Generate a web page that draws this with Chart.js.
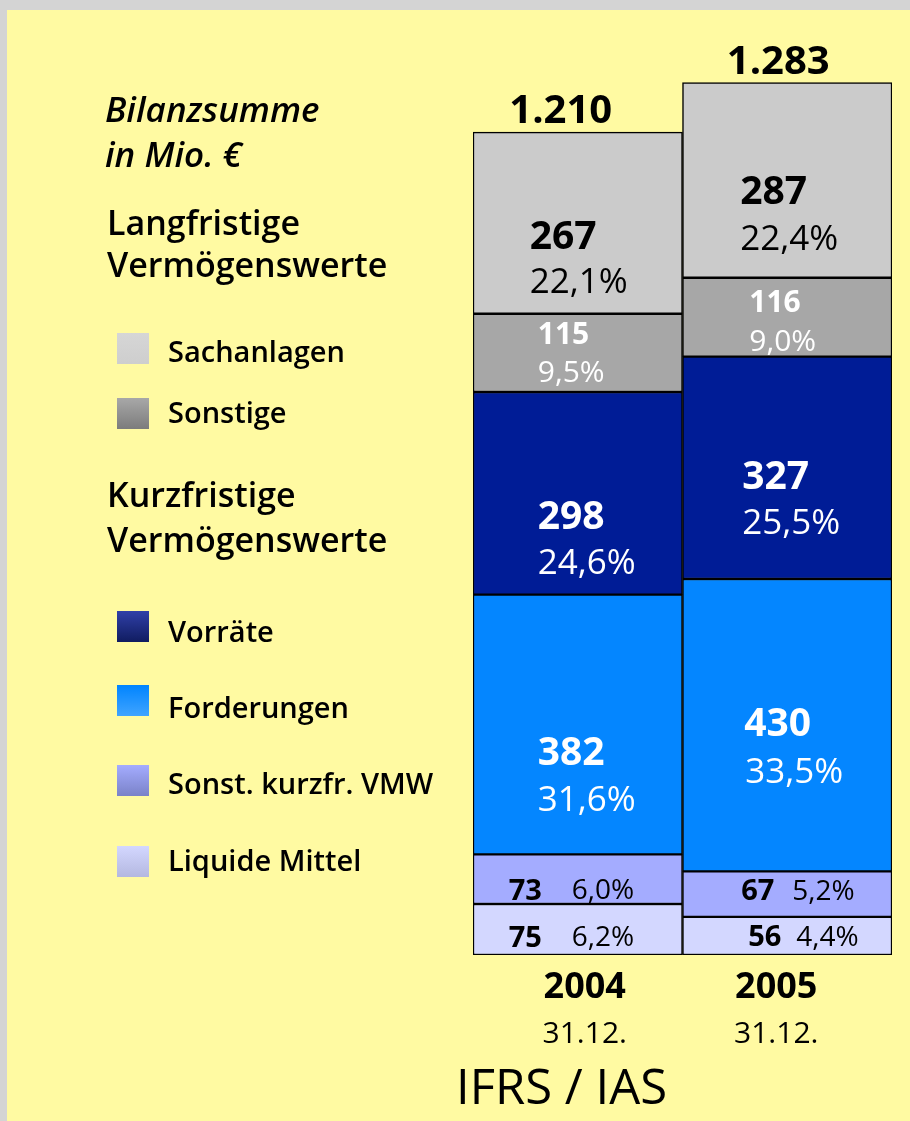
<!DOCTYPE html>
<html>
<head>
<meta charset="utf-8">
<script src="https://cdn.jsdelivr.net/npm/chart.js@4"></script>
<style>
  html, body { margin: 0; padding: 0; }
  body { width: 910px; height: 1121px; background: #d4d4d4; position: relative; overflow: hidden; font-family: "Open Sans", "Noto Sans", sans-serif; }
  #panel { position: absolute; left: 7px; top: 10px; right: 0; bottom: 0; background: #fffaa2; }
  #c { position: absolute; left: 0; top: 0; }
  .t { position: absolute; white-space: nowrap; line-height: 1; color: #000; }
  .h { font-size: 34px; font-weight: 600; }
  .hi { font-size: 35px; font-weight: 600; font-style: italic; }
  .lg { font-size: 29px; font-weight: 600; }
  .sq { position: absolute; width: 32px; height: 31px; }
</style>
</head>
<body>
<div id="panel"></div>
<canvas id="c" width="910" height="1121"></canvas>
<div id="side"></div>
<script>
// ---------- data ----------
const categories = ["2004", "2005"];
const dateLabels = ["31.12.", "31.12."];
const seriesNames = ["Liquide Mittel", "Sonst. kurzfr. VMW", "Forderungen", "Vorräte", "Sonstige", "Sachanlagen"];
const liquideMittel = [75, 56];
const sonstKurzfr = [73, 67];
const forderungen = [382, 430];
const vorraete = [298, 327];
const sonstige = [115, 116];
const sachanlagen = [267, 287];
const liquidePct = ["6,2%", "4,4%"];
const sonstKurzfrPct = ["6,0%", "5,2%"];
const forderungenPct = ["31,6%", "33,5%"];
const vorraetePct = ["24,6%", "25,5%"];
const sonstigePct = ["9,5%", "9,0%"];
const sachanlagenPct = ["22,1%", "22,4%"];
const totals = ["1.210", "1.283"];
const title = "IFRS / IAS";

// ---------- styles ----------
const fills = ["#d3d7ff", "#a4acff", "#0486ff", "#001c96", "#a7a7a7", "#cbcbcb"];
const textColors = ["#000", "#000", "#fff", "#fff", "#fff", "#000"];
const seriesValues = [liquideMittel, sonstKurzfr, forderungen, vorraete, sonstige, sachanlagen];
const seriesPct = [liquidePct, sonstKurzfrPct, forderungenPct, vorraetePct, sonstigePct, sachanlagenPct];
// label layout per series per bar: [valueDx, pctDx, valueDy, pctDy, valueSize, pctSize]
const labelLayout = [
  [[-69, -6, 7, 7, 29, 28], [-39, 9, 0, 0, 29, 28]],
  [[-69, -6, 10, 10, 29, 28], [-46, 5, -4, -4, 29, 28]],
  [[-40, -40, 27, 74, 39, 35], [-43, -42, -3, 45, 39, 35]],
  [[-40, -40, 22, 68, 39, 35], [-45, -45, 7, 54, 39, 35]],
  [[-40, -40, -20, 18, 30, 30], [-38, -38, -16, 23, 30, 30]],
  [[-48, -48, 12, 58, 39, 35], [-47, -47, 10, 57, 39, 35]]
];
const totalDx = [-17, -9];
const catDx = [7, -11];
const FONT = '"Open Sans", "Noto Sans", sans-serif';

const labelPlugin = {
  id: 'labels',
  afterDatasetsDraw(chart) {
    const ctx = chart.ctx;
    ctx.save();
    chart.data.datasets.forEach((ds, i) => {
      const meta = chart.getDatasetMeta(i);
      meta.data.forEach((bar, j) => {
        const [vdx, pdx, vdy, pdy, vs, ps] = labelLayout[i][j];
        const cy = (bar.y + bar.base) / 2;
        ctx.fillStyle = textColors[i];
        ctx.textAlign = 'left';
        ctx.textBaseline = 'alphabetic';
        ctx.font = `700 ${vs}px ${FONT}`;
        ctx.fillText(String(seriesValues[i][j]), bar.x + vdx, cy + vdy + vs * 0.357);
        ctx.font = `400 ${ps}px ${FONT}`;
        ctx.fillText(seriesPct[i][j], bar.x + pdx, cy + pdy + ps * 0.357);
      });
    });
    // totals above stacks
    const topMeta = chart.getDatasetMeta(chart.data.datasets.length - 1);
    topMeta.data.forEach((bar, j) => {
      ctx.fillStyle = '#000';
      ctx.textAlign = 'center';
      ctx.font = `700 40px ${FONT}`;
      ctx.fillText(totals[j], bar.x + totalDx[j], bar.y - 9);
    });
    // category labels below
    const xScale = chart.scales.x;
    categories.forEach((c, j) => {
      const x = xScale.getPixelForValue(j) + catDx[j];
      ctx.fillStyle = '#000';
      ctx.textAlign = 'center';
      ctx.font = `700 36px ${FONT}`;
      ctx.fillText(c, x, 998);
      ctx.font = `400 30px ${FONT}`;
      ctx.fillText(dateLabels[j], x, 1043);
    });
    ctx.restore();
  }
};

new Chart(document.getElementById('c'), {
  type: 'bar',
  data: {
    labels: categories,
    datasets: seriesNames.map((n, i) => ({
      label: n,
      data: seriesValues[i],
      backgroundColor: fills[i],
      borderColor: '#000',
      borderWidth: 1.5,
      borderSkipped: false,
      barPercentage: 1,
      categoryPercentage: 1
    }))
  },
  options: {
    responsive: false,
    animation: false,
    devicePixelRatio: 1,
    events: [],
    layout: { padding: { left: 473, right: 18, top: 3, bottom: 166 } },
    plugins: { legend: { display: false }, tooltip: { enabled: false } },
    scales: {
      x: { stacked: true, display: false },
      y: { stacked: true, display: false, min: 0, max: 1400 }
    }
  },
  plugins: [labelPlugin]
});

// ---------- left side texts and legend (HTML) ----------
const side = document.getElementById('side');
function addText(txt, cls, x, baseline, size) {
  const d = document.createElement('div');
  d.className = 't ' + cls;
  d.textContent = txt;
  d.style.left = x + 'px';
  d.style.top = (baseline - 0.888 * size) + 'px';
  side.appendChild(d);
  return d;
}
addText("Bilanzsumme", "hi", 105, 122, 35);
addText("in Mio. €", "hi", 105, 167, 35);
addText("Langfristige", "h", 107, 235, 34);
addText("Vermögenswerte", "h", 107, 277, 34);
addText("Kurzfristige", "h", 107, 507, 34);
addText("Vermögenswerte", "h", 107, 552, 34);
const legendGrad = [
  ["#d3d7ff", "#b4b8e0"], ["#a4acff", "#7a82c8"], ["#0084ff", "#40a4ff"],
  ["#3040a8", "#101c60"], ["#a8a8a8", "#7c7c7c"], ["#d6d6d6", "#cecece"]
];
const legendTops = [846, 765, 685, 611, 398, 333];
const legendBase = [871, 794, 718, 642, 423, 362];
seriesNames.forEach((n, i) => {
  const s = document.createElement('div');
  s.className = 'sq';
  s.style.left = '117px';
  s.style.top = legendTops[i] + 'px';
  s.style.background = `linear-gradient(${legendGrad[i][0]}, ${legendGrad[i][1]})`;
  side.appendChild(s);
  addText(n, "lg", 168, legendBase[i], 29);
});
const t = addText(title, "", 456, 1105, 49);
t.style.fontSize = '49px';
t.style.fontWeight = '500';
</script>
</body>
</html>
